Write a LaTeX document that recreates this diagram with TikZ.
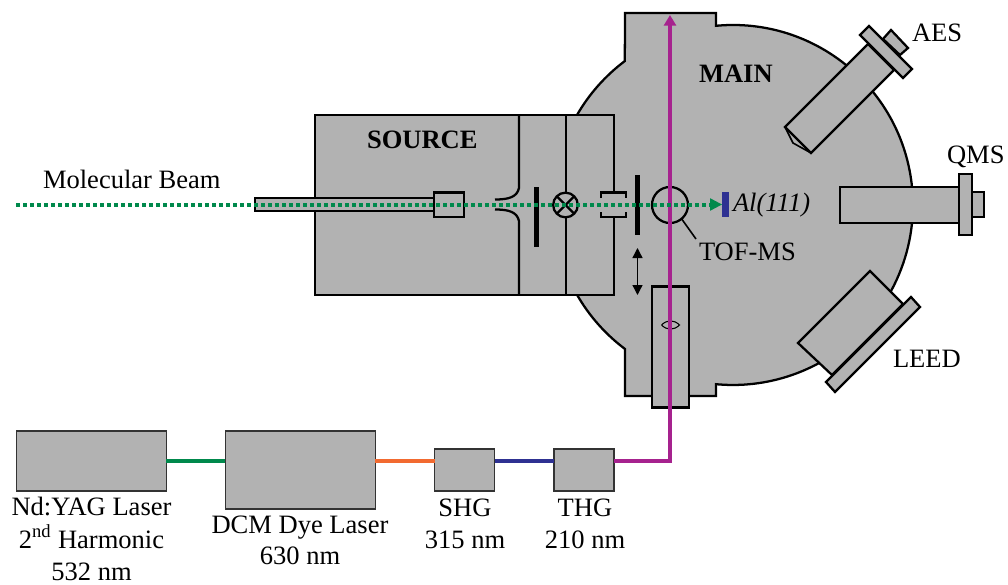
\documentclass[tikz,border=0pt]{standalone}
\usepackage{fontspec}
\setmainfont{Liberation Serif}
\usetikzlibrary{arrows.meta}
\definecolor{hw}{HTML}{B2B2B2}
\definecolor{beamgreen}{HTML}{00894C}
\definecolor{laserorange}{HTML}{F26A30}
\definecolor{laserblue}{HTML}{2E3192}
\definecolor{laserpurple}{HTML}{A6228E}
\tikzset{
  hard/.style={draw=black,fill=hw,line width=1.7pt,line join=miter},
  wall/.style={draw=black,line width=1.7pt},
  lightbox/.style={draw=black!80,fill=hw,line width=1pt,inner sep=0pt,outer sep=0pt},
  partbox/.style={hard,inner sep=0pt,outer sep=0pt},
  bar/.style={fill=black,draw=none,inner sep=0pt,outer sep=0pt},
  lab/.style={anchor=base,inner sep=0pt,outer sep=0pt,font=\fontsize{19.9pt}{24pt}\selectfont},
  beam/.style={line width=2.8pt},
}
\begin{document}
\begin{tikzpicture}[x=0.75pt,y=0.75pt,yscale=-1]
\useasboundingbox (0,0) rectangle (1008,585);
\def\R{180}
% main chamber
\draw[hard] (625,13) -- (716,13) -- (716,25.8)
  arc[start angle=-95.4,end angle=95.4,radius=\R]
  -- (716,396) -- (625,396) -- (625,349)
  arc[start angle=126.9,end angle=150,radius=\R]
  -- (577,115)
  arc[start angle=210,end angle=233.1,radius=\R]
  -- cycle;
% source chamber
\fill[hw] (315,115) rectangle (614,295);
\draw[wall] (614,192.5) -- (614,115) -- (315,115) -- (315,295) -- (614,295) -- (614,217);
\draw[wall] (566,115) -- (566,295);
\draw[wall] (519,115) -- (519,188) .. controls (517,197) and (509,199.5) .. (495,199.5);
\draw[wall] (495,209.5) .. controls (509,209.5) and (517,212) .. (519,221) -- (519,295);
\draw[wall] (601,198) -- (601,192.5) -- (626,192.5) -- (626,198);
\draw[wall] (601,212) -- (601,217) -- (626,217) -- (626,212);
\node[bar,minimum width=3.75pt,minimum height=45pt] (aperture) at (536,217) {};
\node[bar,minimum width=3.75pt,minimum height=45pt] (skimmer) at (637.5,205) {};
% valve
\node[partbox,circle,minimum size=18.5pt] (valve) at (565.5,205) {};
\draw[wall] (valve.45) -- (valve.225) (valve.135) -- (valve.315);
% nozzle
\node[partbox,minimum width=134.25pt,minimum height=9.75pt] (nozzle) at (344.5,204.5) {};
\node[partbox,minimum width=22.5pt,minimum height=18.4pt] (holder) at (449,204.7) {};
% TOF
\node[circle,draw=black,line width=1.7pt,minimum size=27pt,inner sep=0pt,outer sep=0pt] (tof) at (670,205) {};
\node[lab,anchor=base west] (toflabel) at (699,260) {TOF-MS};
\coordinate (tofend) at (696,239);
\draw[black,line width=1.2pt] (tof.-50) -- (tofend);
% translation arrow
\coordinate (transa) at (637.5,248);
\coordinate (transb) at (637.5,295);
\draw[black,line width=1pt,{Triangle[length=7.5pt,width=7.5pt]}-{Triangle[length=7.5pt,width=7.5pt]}] (transa) -- (transb);
% manipulator
\node[partbox,minimum width=27.75pt,minimum height=90.75pt] (manip) at (670.5,347) {};
\coordinate (lensl) at (661.5,325);
\coordinate (lensr) at (679.5,325);
\draw[black,line width=0.8pt] (lensl) .. controls (667,319.5) and (674,319.5) .. (lensr) .. controls (674,330.5) and (667,330.5) .. (lensl);
% AES
\draw[hard,line width=1.2pt] (785,127) -- (793,143) -- (811,153);
\draw[hard] (785,127) -- (811,153) -- (894,70) -- (868,44) -- cycle;
\draw[hard] (883,39) -- (891,30) -- (908,48) -- (900,55) -- cycle;
\draw[hard] (860,35) -- (869,26) -- (912,69) -- (903,78) -- cycle;
% QMS
\node[partbox,minimum width=90pt,minimum height=27pt] (qmstube) at (900,205) {};
\node[partbox,minimum width=9pt,minimum height=18.75pt] (qmscap) at (978,204.5) {};
\node[partbox,minimum width=9.75pt,minimum height=45.75pt] (qmsflange) at (965.5,204.5) {};
% LEED
\draw[hard] (870,271) -- (798,343) -- (832,375) -- (903,304) -- cycle;
\draw[hard] (911,297) -- (920,307) -- (835,392) -- (826,382) -- cycle;
% lasers
\node[lightbox,minimum width=112.5pt,minimum height=45pt] (yag) at (91.25,461) {};
\node[lightbox,minimum width=112.5pt,minimum height=58.5pt] (dcm) at (300.25,470) {};
\node[lightbox,minimum width=45pt,minimum height=31.5pt] (shg) at (464.5,470) {};
\node[lightbox,minimum width=45pt,minimum height=31.5pt] (thg) at (584,470) {};
\coordinate (yagout) at (166,461);
\coordinate (dcmin) at (225,461);
\coordinate (dcmout) at (375,461);
\coordinate (shgin) at (434.5,461);
\coordinate (shgout) at (494.5,461);
\coordinate (thgin) at (554,461);
\coordinate (thgout) at (614,461);
\coordinate (corner) at (670,461);
\coordinate (beamtop) at (670,15);
\draw[beam,beamgreen] (yagout) -- (dcmin);
\draw[beam,laserorange] (dcmout) -- (shgin);
\draw[beam,laserblue] (shgout) -- (thgin);
\draw[beam,laserpurple,line join=miter,-{Triangle[length=8pt,width=9pt]}] (thgout) -- (corner) -- (beamtop);
% sample
\node[fill=laserblue,inner sep=0pt,outer sep=0pt,minimum width=5.25pt,minimum height=18.75pt] (sample) at (725.5,204.5) {};
% molecular beam
\coordinate (beamstart) at (16,204.5);
\draw[beamgreen,line width=3pt,dash pattern=on 3pt off 2.25pt] (beamstart) -- (711,204.5);
\draw[beamgreen,line width=0pt,-{Triangle[length=9pt,width=9.5pt]}] (710,204.5) -- (sample.west);
% labels
\node[lab,anchor=base west] (mb) at (43,189) {Molecular Beam};
\node[lab,font=\fontsize{19.9pt}{24pt}\selectfont\bfseries,anchor=base west] (source) at (367,149) {SOURCE};
\node[lab,font=\fontsize{19.9pt}{24pt}\selectfont\bfseries,anchor=base west] (main) at (699,83) {MAIN};
\node[lab,font=\fontsize{19.9pt}{24pt}\selectfont\itshape,anchor=base west] (al) at (733,211) {Al(111)};
\node[lab,anchor=base west] (aes) at (912,42) {AES};
\node[lab,anchor=base west] (qms) at (947,163) {QMS};
\node[lab,anchor=base west] (leed) at (893,367) {LEED};
\node[lab] (l1) at (91.5,515) {Nd:YAG Laser};
\node[lab] (l2) at (91.5,548) {2\textsuperscript{nd} Harmonic};
\node[lab] (l3) at (91.5,580) {532 nm};
\node[lab] (l4) at (300,533) {DCM Dye Laser};
\node[lab] (l5) at (300,564) {630 nm};
\node[lab] (l6) at (465,516) {SHG};
\node[lab] (l7) at (465,548) {315 nm};
\node[lab] (l8) at (585,516) {THG};
\node[lab] (l9) at (585,548) {210 nm};
\end{tikzpicture}
\end{document}
